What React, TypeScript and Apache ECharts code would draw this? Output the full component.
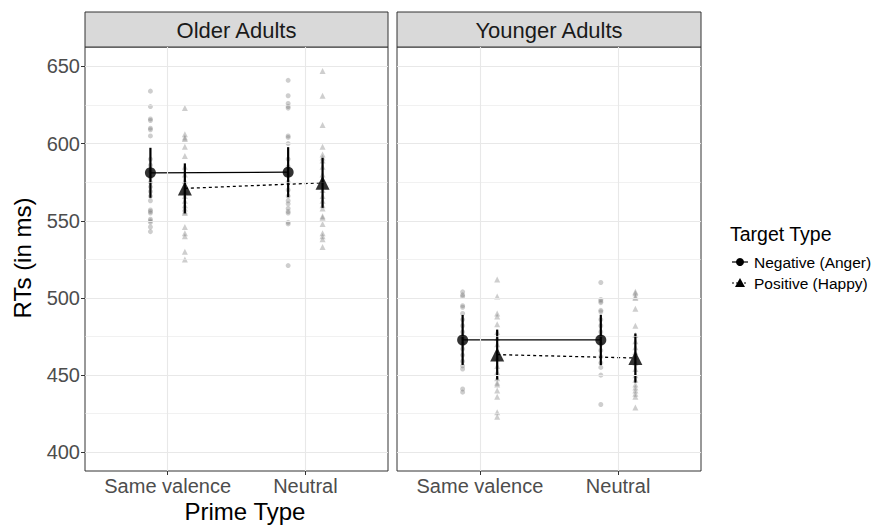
import React, { useEffect, useRef } from "react";
import * as echarts from "echarts";

const categories = ["Same valence", "Neutral"];
const panels = ["Older Adults", "Younger Adults"];
const targetTypes = ["Negative (Anger)", "Positive (Happy)"];
const yTicks = [400, 450, 500, 550, 600, 650];
const yMinor = [425, 475, 525, 575, 625];

// raw participant RTs
const olderSameNeg = [634, 624, 616, 615, 610, 609, 605, 590, 586, 582, 578, 575, 572, 569, 566, 563, 557, 556, 555, 551, 550, 549, 546, 543];
const olderSamePos = [623, 606, 604, 603, 598, 592, 585, 580, 576, 572, 569, 566, 563, 560, 558, 556, 555, 546, 542, 540, 530, 525];
const olderNeutralNeg = [641, 631, 626, 624, 623, 605, 604, 600, 590, 585, 580, 575, 570, 566, 563, 561, 558, 556, 555, 549, 548, 521];
const olderNeutralPos = [647, 631, 612, 598, 593, 591, 589, 585, 580, 576, 570, 566, 563, 560, 558, 553, 552, 548, 542, 540, 538, 533];
const youngerSameNeg = [504, 502, 501, 495, 494, 490, 486, 482, 478, 474, 470, 467, 463, 459, 456, 454, 441, 439];
const youngerSamePos = [512, 501, 490, 488, 483, 478, 474, 470, 466, 461, 456, 452, 448, 445, 444, 440, 436, 426, 423];
const youngerNeutralNeg = [510, 499, 498, 497, 492, 491, 486, 482, 478, 475, 470, 466, 462, 458, 455, 450, 431];
const youngerNeutralPos = [504, 503, 501, 500, 493, 482, 476, 472, 468, 465, 462, 458, 454, 450, 447, 444, 442, 440, 438, 436, 429];

// means and error half-widths [Same valence, Neutral]
const olderNegMeans = [581.1, 581.5];
const olderPosMeans = [571.0, 574.6];
const youngerNegMeans = [472.8, 472.8];
const youngerPosMeans = [463.3, 461.1];
const olderNegErr = [16.2, 16.2];
const olderPosErr = [16.2, 16.2];
const youngerNegErr = [16.2, 16.3];
const youngerPosErr = [16.2, 15.9];

const FONT = "'Liberation Sans', Arial, Helvetica, sans-serif";
const DODGE = [-0.125, 0.125];

export default function App() {
  const ref = useRef<HTMLDivElement>(null);

  useEffect(() => {
    if (!ref.current) return;
    const chart = echarts.init(ref.current, null, { renderer: "svg" });

    const raw = [
      [[olderSameNeg, olderNeutralNeg], [olderSamePos, olderNeutralPos]],
      [[youngerSameNeg, youngerNeutralNeg], [youngerSamePos, youngerNeutralPos]],
    ];
    const means = [
      [olderNegMeans, olderPosMeans],
      [youngerNegMeans, youngerPosMeans],
    ];
    const errs = [
      [olderNegErr, olderPosErr],
      [youngerNegErr, youngerPosErr],
    ];

    const grids = [
      { left: 85, top: 47, width: 303, height: 424 },
      { left: 397, top: 47, width: 304, height: 424 },
    ];

    const series: any[] = [];
    panels.forEach((_, p) => {
      const axisRef = { xAxisIndex: p, yAxisIndex: p };
      series.push({
        type: "line",
        ...axisRef,
        data: [],
        z: 1,
        silent: true,
        markLine: {
          silent: true,
          symbol: ["none", "none"],
          label: { show: false },
          emphasis: { disabled: true },
          animation: false,
          data: [
            ...yTicks.map((v) => ({ yAxis: v, lineStyle: { color: "#e8e8e8", width: 1.1, type: "solid" } })),
            ...yMinor.map((v) => ({ yAxis: v, lineStyle: { color: "#e8e8e8", width: 0.6, type: "solid" } })),
            ...categories.map((_, c) => ({ xAxis: c + 1, lineStyle: { color: "#e8e8e8", width: 1.1, type: "solid" } })),
          ],
        },
      });
      targetTypes.forEach((tt, t) => {
        const data: number[][] = [];
        categories.forEach((_, c) => {
          raw[p][t][c].forEach((v) => data.push([c + 1 + DODGE[t], v]));
        });
        series.push({
          type: "scatter",
          ...axisRef,
          z: 2,
          silent: true,
          symbol: t === 0 ? "circle" : "triangle",
          symbolSize: t === 0 ? 5 : 6,
          itemStyle: { color: "rgba(110,110,110,0.42)" },
          data,
        });
      });
      targetTypes.forEach((tt, t) => {
        series.push({
          type: "line",
          ...axisRef,
          z: 3,
          silent: true,
          symbol: "none",
          lineStyle: { color: "#000", width: 1.3, type: t === 0 ? "solid" : [3, 3] },
          data: categories.map((_, c) => [c + 1 + DODGE[t], means[p][t][c]]),
        });
      });
      const ebData: number[][] = [];
      targetTypes.forEach((tt, t) => {
        categories.forEach((_, c) => {
          const m = means[p][t][c];
          const e = errs[p][t][c];
          ebData.push([c + 1 + DODGE[t], m - e, m + e]);
        });
      });
      series.push({
        type: "custom",
        ...axisRef,
        z: 4,
        silent: true,
        data: ebData,
        renderItem: (params: any, api: any) => {
          const a = api.coord([api.value(0), api.value(1)]);
          const b = api.coord([api.value(0), api.value(2)]);
          return {
            type: "line",
            shape: { x1: a[0], y1: a[1], x2: b[0], y2: b[1] },
            style: { stroke: "#000", lineWidth: 2.2 },
          };
        },
      });
      targetTypes.forEach((tt, t) => {
        series.push({
          type: "scatter",
          ...axisRef,
          z: 5,
          silent: true,
          symbol: t === 0 ? "circle" : "triangle",
          symbolSize: t === 0 ? 11 : 14,
          itemStyle: { color: "#000" },
          data: categories.map((_, c) => [c + 1 + DODGE[t], means[p][t][c]]),
        });
      });
    });

    const graphic: any[] = [];
    panels.forEach((name, p) => {
      const g = grids[p];
      graphic.push({
        type: "rect",
        shape: { x: g.left, y: 12, width: g.width, height: g.top - 12 },
        style: { fill: "#d9d9d9", stroke: "#333", lineWidth: 1 },
      });
      graphic.push({
        type: "text",
        x: g.left + g.width / 2,
        y: 30,
        style: { text: name, fontSize: 22, fontFamily: FONT, fill: "#1a1a1a", align: "center", verticalAlign: "middle" },
      });
    });
    graphic.push({
      type: "text",
      x: 22,
      y: 258,
      rotation: Math.PI / 2,
      style: { text: "RTs (in ms)", fontSize: 24, fontFamily: FONT, fill: "#000", align: "center", verticalAlign: "middle" },
    });
    graphic.push({
      type: "text",
      x: 245,
      y: 511,
      style: { text: "Prime Type", fontSize: 24, fontFamily: FONT, fill: "#000", align: "center", verticalAlign: "middle" },
    });
    graphic.push({
      type: "text",
      x: 730,
      y: 234,
      style: { text: "Target Type", fontSize: 19.5, fontFamily: FONT, fill: "#000", align: "left", verticalAlign: "middle" },
    });
    const legY = [262, 283];
    targetTypes.forEach((tt, t) => {
      graphic.push({
        type: "line",
        shape: { x1: 732, y1: legY[t], x2: 748, y2: legY[t] },
        style: { stroke: "#000", lineWidth: 1.2, lineDash: t === 0 ? null : [2, 2] },
      });
      if (t === 0) {
        graphic.push({ type: "circle", shape: { cx: 740, cy: legY[t], r: 4 }, style: { fill: "#000" } });
      } else {
        graphic.push({
          type: "polygon",
          shape: { points: [[740, legY[t] - 5], [745, legY[t] + 4], [735, legY[t] + 4]] },
          style: { fill: "#000" },
        });
      }
      graphic.push({
        type: "text",
        x: 754,
        y: legY[t],
        style: { text: tt, fontSize: 15.5, fontFamily: FONT, fill: "#000", align: "left", verticalAlign: "middle" },
      });
    });

    const option: any = {
      animation: false,
      backgroundColor: "#fff",
      grid: grids.map((g) => ({ ...g, show: true, borderColor: "#333", borderWidth: 1, backgroundColor: "transparent" })),
      xAxis: panels.map((_, p) => ({
        type: "value",
        gridIndex: p,
        min: 0.4,
        max: 2.6,
        axisLine: { show: false },
        splitLine: { show: false },
        axisTick: { show: true, customValues: [1, 2], length: 4, lineStyle: { color: "#333", width: 1 } },
        axisLabel: {
          customValues: [1, 2],
          formatter: (v: number) => categories[Math.round(v) - 1],
          fontSize: 20,
          color: "#4d4d4d",
          fontFamily: FONT,
          margin: 5,
        },
      })),
      yAxis: panels.map((_, p) => ({
        type: "value",
        gridIndex: p,
        min: 387.9,
        max: 662.6,
        axisLine: { show: false },
        splitLine: { show: false },
        axisTick: { show: p === 0, customValues: yTicks, length: 4, lineStyle: { color: "#333", width: 1 } },
        axisLabel: {
          show: p === 0,
          customValues: yTicks,
          fontSize: 20,
          color: "#4d4d4d",
          fontFamily: FONT,
          margin: 5,
        },
      })),
      series,
      graphic,
    };
    chart.setOption(option);
    return () => chart.dispose();
  }, []);

  return <div ref={ref} style={{ position: "fixed", left: 0, top: 0, width: 875, height: 525 }} />;
}
